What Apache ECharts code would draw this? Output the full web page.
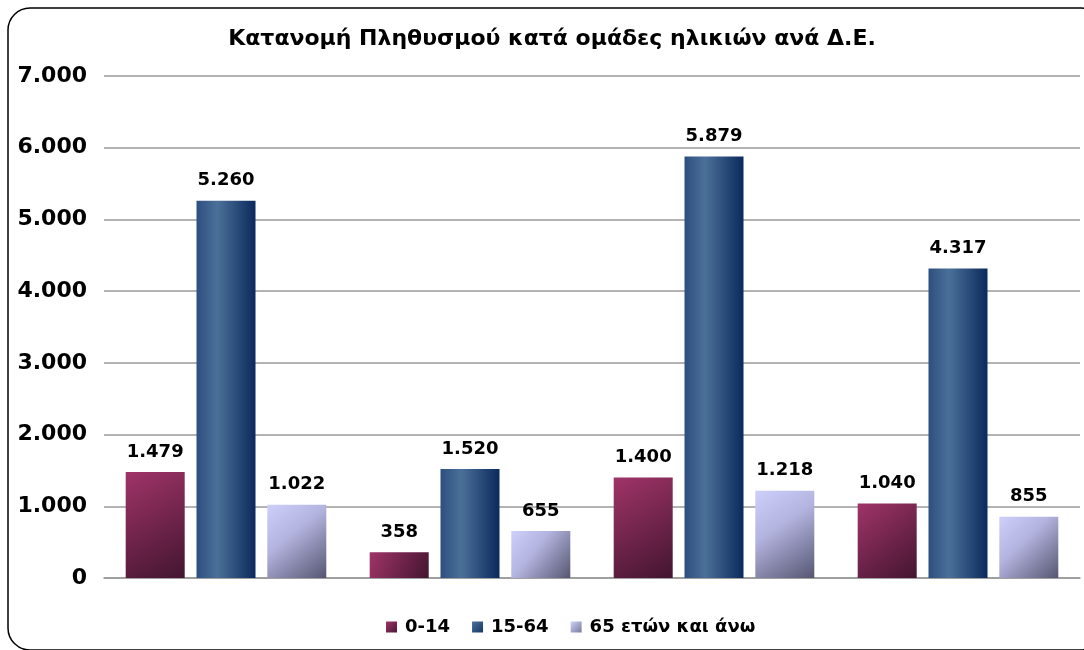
<!DOCTYPE html>
<html lang="el">
<head>
<meta charset="UTF-8">
<title>Κατανομή Πληθυσμού</title>
<style>
  *{margin:0;padding:0;}
  body{background:#fff;}
  #box{width:1084px;height:650px;}
</style>
<script src="https://cdn.jsdelivr.net/npm/echarts@6/dist/echarts.min.js"></script>
</head>
<body>
<div id="box"></div>
<script>
// δεδομένα
var categories = ['Δ.Ε. 1', 'Δ.Ε. 2', 'Δ.Ε. 3', 'Δ.Ε. 4'];
var seriesNames = ['0-14', '15-64', '65 ετών και άνω'];
var age0_14 = [1479, 358, 1400, 1040];
var age15_64 = [5260, 1520, 5879, 4317];
var age65 = [1022, 655, 1218, 855];

function fmt(v){
    return String(v).replace(/\B(?=(\d{3})+(?!\d))/g, '.');
}

var G = echarts.graphic.LinearGradient;
var colors = [
    new G(0, 0, 1, 1, [{offset:0, color:'#a03468'}, {offset:1, color:'#431530'}]),
    new G(0, 0, 1, 0, [{offset:0, color:'#2d4f7f'}, {offset:0.35, color:'#4b7098'}, {offset:1, color:'#0a2a5c'}]),
    new G(0, 0, 1, 1, [{offset:0, color:'#cfcffc'}, {offset:0.4, color:'#b4b4e0'}, {offset:1, color:'#565672'}])
];
var legendColors = [
    new G(0, 0, 1, 1, [{offset:0, color:'#a03468'}, {offset:1, color:'#4a1a34'}]),
    new G(0, 0, 1, 1, [{offset:0, color:'#4b7098'}, {offset:1, color:'#163866'}]),
    new G(0, 0, 1, 1, [{offset:0, color:'#d0d0fc'}, {offset:1, color:'#7a7a9a'}])
];

var labelStyle = {
    show: true,
    position: 'top',
    distance: 11,
    fontFamily: 'DejaVu Sans',
    fontWeight: 'bold',
    fontSize: 18,
    color: '#000',
    formatter: function(p){ return fmt(p.value); }
};

function mk(i, data){
    return {
        name: seriesNames[i],
        type: 'bar',
        data: data,
        barWidth: 59,
        barGap: '20%',
        itemStyle: {color: colors[i]},
        label: labelStyle
    };
}

var chart = echarts.init(document.getElementById('box'));
chart.setOption({
    animation: false,
    title: {
        text: 'Κατανομή Πληθυσμού κατά ομάδες ηλικιών ανά Δ.Ε.',
        left: 547,
        textAlign: 'center',
        top: 23,
        textStyle: {fontFamily: 'DejaVu Sans', fontWeight: 'bold', fontSize: 22, color: '#000'}
    },
    graphic: [{
        type: 'rect',
        shape: {x: 8, y: 8, width: 1095, height: 642, r: 22},
        style: {fill: 'none', stroke: '#000', lineWidth: 1.5},
        silent: true
    }],
    legend: {
        bottom: 9,
        left: 381,
        itemWidth: 11,
        itemHeight: 11,
        itemGap: 22,
        icon: 'rect',
        textStyle: {fontFamily: 'DejaVu Sans', fontWeight: 'bold', fontSize: 18, color: '#000', padding: [0, 0, 0, 3]},
        data: seriesNames.map(function(n, i){ return {name: n, itemStyle: {color: legendColors[i]}}; })
    },
    grid: {left: 104, right: 4, top: 76, bottom: 72},
    xAxis: {
        type: 'category',
        data: categories,
        axisLine: {lineStyle: {color: '#999', width: 1.5}},
        axisTick: {show: false},
        axisLabel: {show: false}
    },
    yAxis: {
        type: 'value',
        min: 0,
        max: 7000,
        interval: 1000,
        axisLine: {show: false},
        axisTick: {show: false},
        splitLine: {lineStyle: {color: '#9a9a9a', width: 1.5}},
        axisLabel: {
            fontFamily: 'DejaVu Sans', fontWeight: 'bold', fontSize: 22, color: '#000', margin: 17,
            formatter: function(v){ return fmt(v); }
        }
    },
    series: [mk(0, age0_14), mk(1, age15_64), mk(2, age65)]
});
</script>
</body>
</html>
